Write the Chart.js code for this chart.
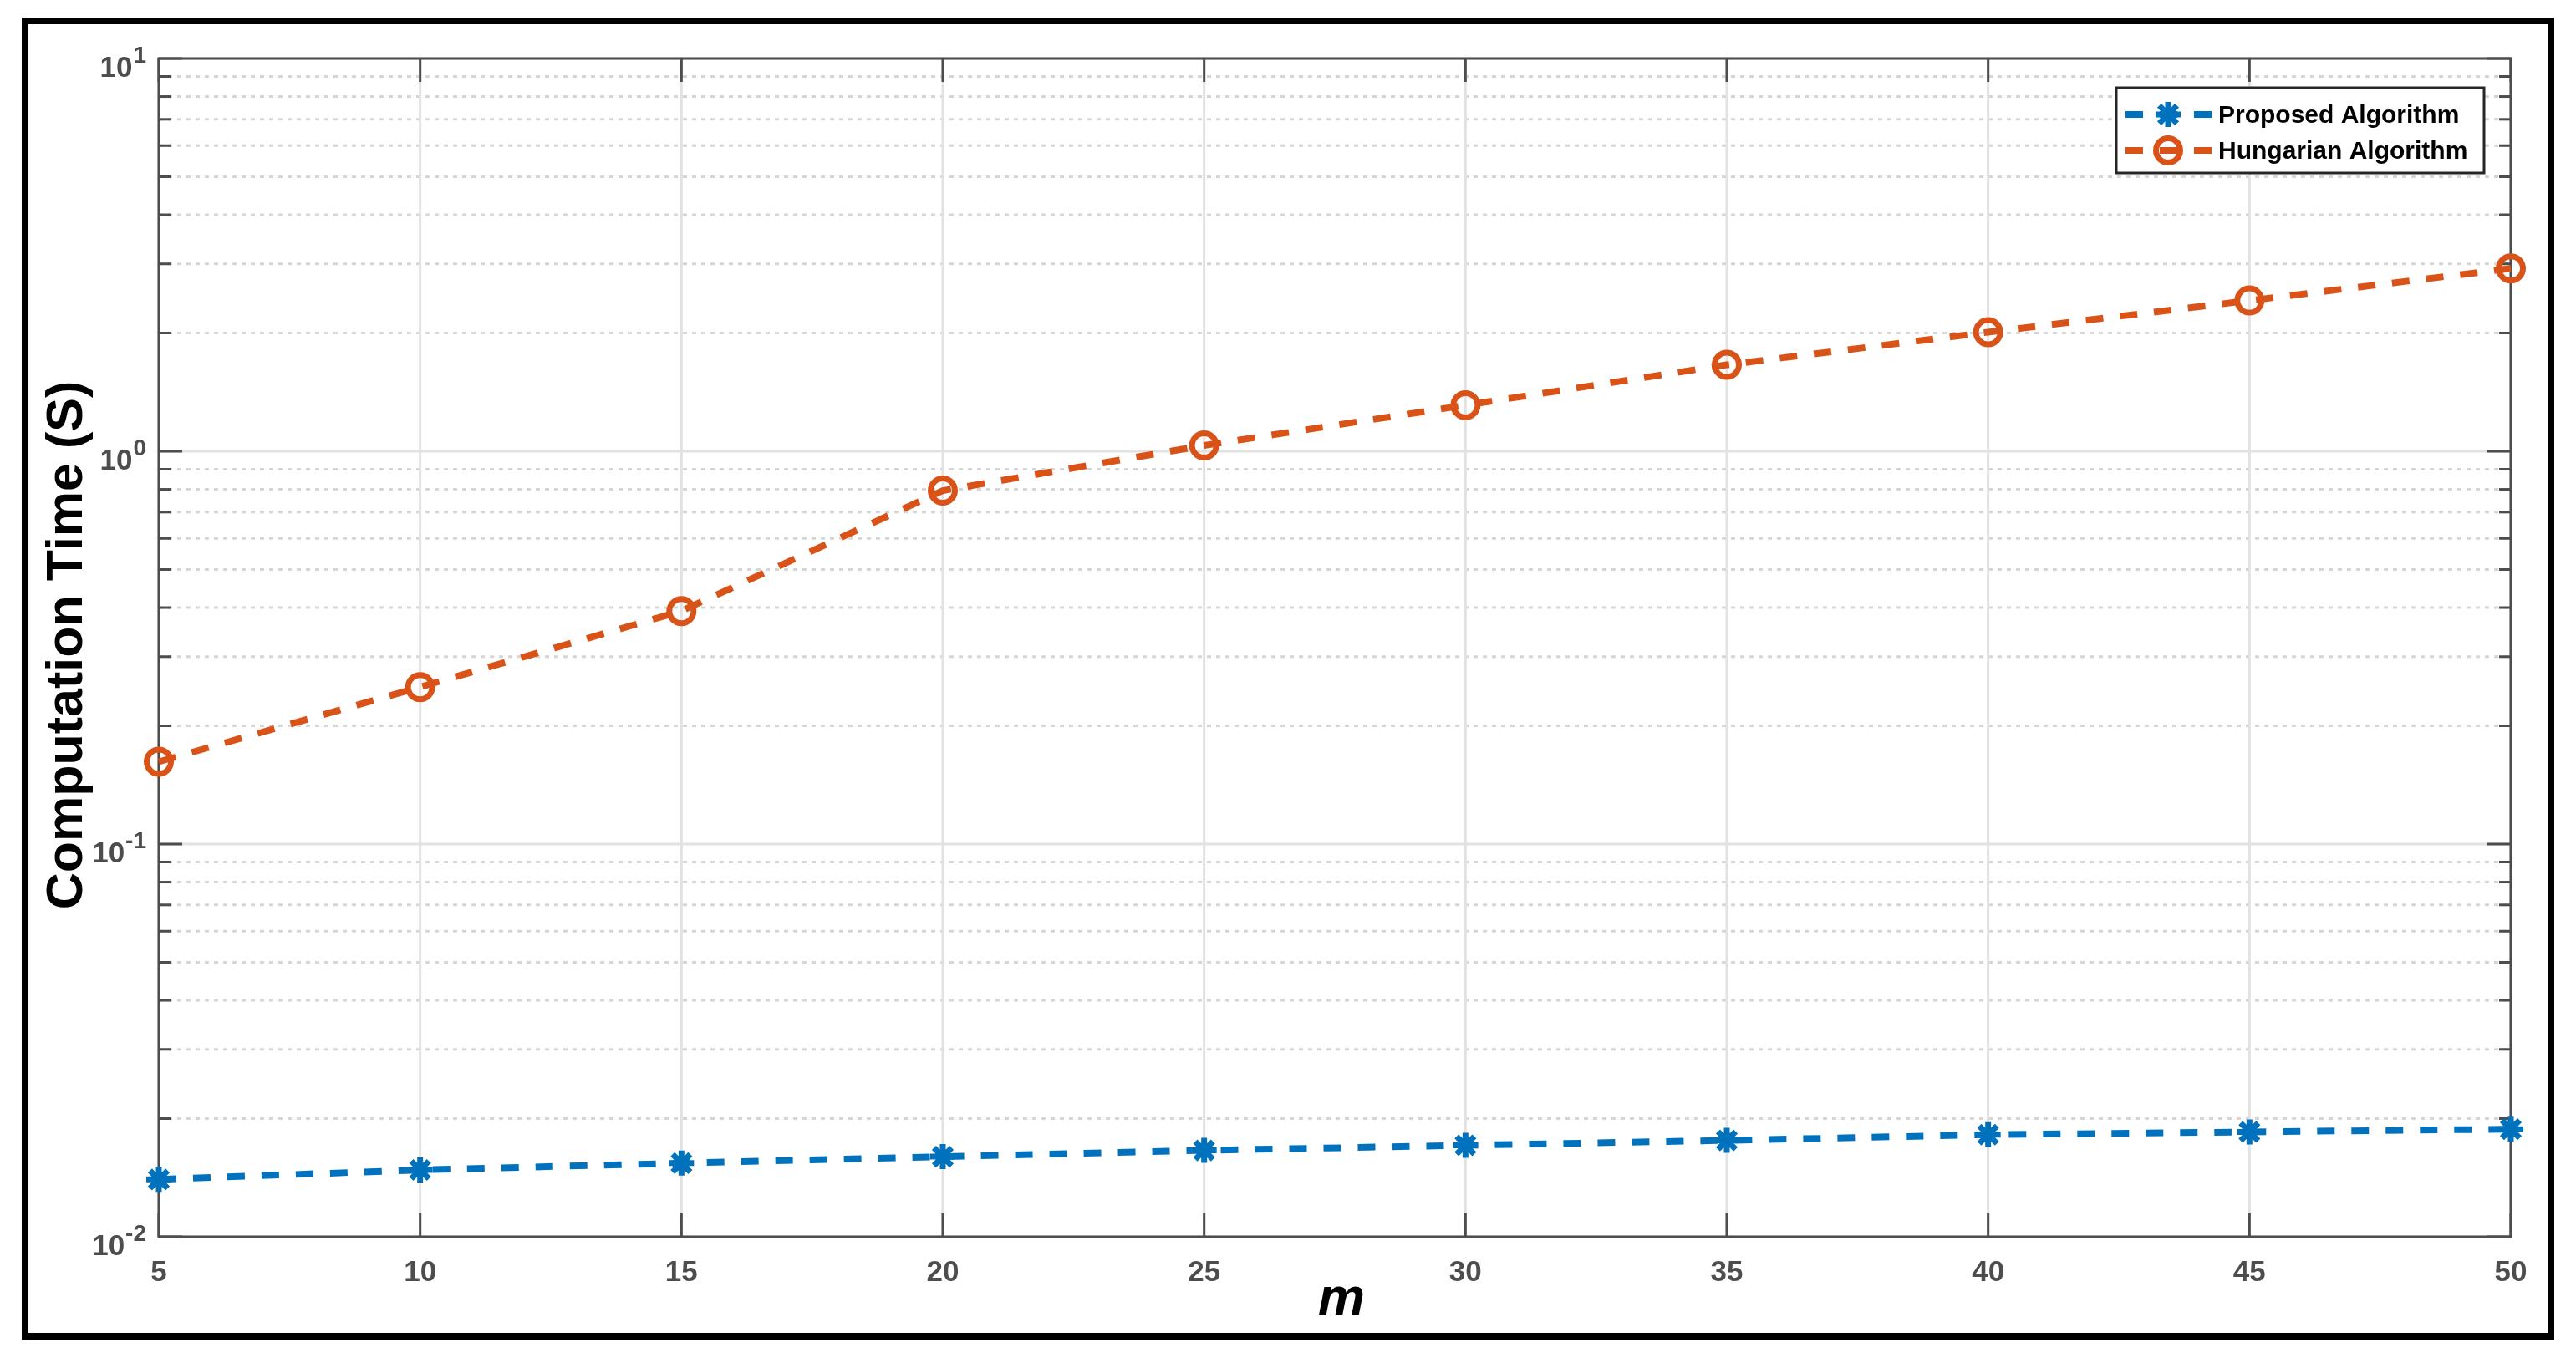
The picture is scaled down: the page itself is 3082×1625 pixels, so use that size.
<!DOCTYPE html>
<html>
<head>
<meta charset="utf-8">
<title>Computation Time</title>
<script src="https://cdn.jsdelivr.net/npm/chart.js@4.4.0/dist/chart.umd.min.js"></script>
<style>
    html, body { margin: 0; padding: 0; background: #fff; }
    canvas { display: block; }
</style>
</head>
<body>
<canvas id="tiempoChart" width="3082" height="1625"></canvas>
<script>
// valores
const mValues = [5, 10, 15, 20, 25, 30, 35, 40, 45, 50];
const proposedTime = [0.0140, 0.0148, 0.0154, 0.0160, 0.0166, 0.0171, 0.0176, 0.0182, 0.0185, 0.0188];
const hungarianTime = [0.162, 0.251, 0.392, 0.794, 1.035, 1.31, 1.66, 2.01, 2.42, 2.92];

const xTicks = [5, 10, 15, 20, 25, 30, 35, 40, 45, 50];
const yDecades = [0.01, 0.1, 1, 10];
const yExponents = ['-2', '-1', '0', '1'];
const seriesNames = ['Proposed Algorithm', 'Hungarian Algorithm'];
const seriesColors = ['#0072BD', '#D95319'];

const FONT = "'Liberation Sans', Arial, Helvetica, sans-serif";
const AXIS_COLOR = '#4d4d4d';

function minorValues() {
    const out = [];
    for (let i = 0; i < yDecades.length - 1; i++) {
        for (let k = 2; k <= 9; k++) out.push(k * yDecades[i]);
    }
    return out;
}

function seg(ctx, x1, y1, x2, y2) {
    ctx.beginPath();
    ctx.moveTo(x1, y1);
    ctx.lineTo(x2, y2);
    ctx.stroke();
}

function drawStar(ctx, cx, cy, r, color) {
    ctx.save();
    ctx.strokeStyle = color;
    ctx.lineWidth = 7;
    const d = r * Math.SQRT1_2;
    seg(ctx, cx - r, cy, cx + r, cy);
    seg(ctx, cx, cy - r, cx, cy + r);
    seg(ctx, cx - d, cy - d, cx + d, cy + d);
    seg(ctx, cx - d, cy + d, cx + d, cy - d);
    ctx.restore();
}

function drawCircle(ctx, cx, cy, r, color) {
    ctx.save();
    ctx.strokeStyle = color;
    ctx.lineWidth = 7;
    ctx.beginPath();
    ctx.arc(cx, cy, r, 0, Math.PI * 2);
    ctx.stroke();
    ctx.restore();
}

// ejes estilo MATLAB: rejilla, marcas hacia dentro, caja
const matlabAxes = {
    id: 'matlabAxes',
    beforeDatasetsDraw(chart) {
        const { ctx, chartArea: a, scales: { x, y } } = chart;
        ctx.save();
        ctx.lineWidth = 3;

        ctx.strokeStyle = '#d6d6d6';
        ctx.setLineDash([5, 6]);
        minorValues().forEach(v => {
            const py = y.getPixelForValue(v);
            seg(ctx, a.left, py, a.right, py);
        });

        ctx.setLineDash([]);
        ctx.strokeStyle = '#e2e2e2';
        yDecades.forEach(v => {
            const py = y.getPixelForValue(v);
            seg(ctx, a.left, py, a.right, py);
        });
        xTicks.forEach(v => {
            const px = x.getPixelForValue(v);
            seg(ctx, px, a.top, px, a.bottom);
        });

        ctx.strokeStyle = AXIS_COLOR;
        minorValues().forEach(v => {
            const py = y.getPixelForValue(v);
            seg(ctx, a.left, py, a.left + 14, py);
            seg(ctx, a.right - 14, py, a.right, py);
        });
        yDecades.forEach(v => {
            const py = y.getPixelForValue(v);
            seg(ctx, a.left, py, a.left + 28, py);
            seg(ctx, a.right - 28, py, a.right, py);
        });
        xTicks.forEach(v => {
            const px = x.getPixelForValue(v);
            seg(ctx, px, a.bottom, px, a.bottom - 28);
            seg(ctx, px, a.top, px, a.top + 28);
        });
        ctx.strokeRect(a.left, a.top, a.right - a.left, a.bottom - a.top);
        ctx.restore();
    },
    afterDraw(chart) {
        const { ctx, chartArea: a, scales: { x, y } } = chart;
        ctx.save();

        // etiquetas eje y (10^n)
        ctx.fillStyle = AXIS_COLOR;
        ctx.textBaseline = 'alphabetic';
        ctx.textAlign = 'right';
        yDecades.forEach((v, i) => {
            const py = y.getPixelForValue(v);
            const expRight = a.left - 15;
            ctx.font = `bold 28px ${FONT}`;
            ctx.fillText(yExponents[i], expRight, py + 5);
            const w = ctx.measureText(yExponents[i]).width;
            ctx.font = `bold 35px ${FONT}`;
            ctx.fillText('10', expRight - w - 1, py + 22);
        });

        // etiquetas eje x
        ctx.textAlign = 'center';
        ctx.font = `bold 35px ${FONT}`;
        xTicks.forEach(v => {
            ctx.fillText(String(v), x.getPixelForValue(v), a.bottom + 53);
        });

        // titulos de ejes
        ctx.fillStyle = '#000';
        ctx.font = `italic bold 63px ${FONT}`;
        ctx.fillText('m', (a.left + a.right) / 2 + 8, a.bottom + 93);

        ctx.save();
        ctx.translate(a.left - 92, (a.top + a.bottom) / 2 - 3);
        ctx.rotate(-Math.PI / 2);
        ctx.font = `bold 61px ${FONT}`;
        ctx.fillText('Computation Time (S)', 0, 0);
        ctx.restore();

        // leyenda
        const lw = 440, lh = 102;
        const lx = a.right - 32 - lw, ly = a.top + 35;
        ctx.fillStyle = '#fff';
        ctx.fillRect(lx, ly, lw, lh);
        ctx.strokeStyle = '#262626';
        ctx.lineWidth = 3;
        ctx.strokeRect(lx, ly, lw, lh);
        ctx.textAlign = 'left';
        ctx.font = `bold 30px ${FONT}`;
        seriesNames.forEach((name, i) => {
            const cy = ly + 32 + i * 43;
            ctx.save();
            ctx.strokeStyle = seriesColors[i];
            ctx.lineWidth = 8;
            ctx.setLineDash([21, 20]);
            seg(ctx, lx + 11, cy, lx + 114, cy);
            ctx.restore();
            if (i === 0) drawStar(ctx, lx + 62, cy, 15, seriesColors[i]);
            else drawCircle(ctx, lx + 62, cy, 14.5, seriesColors[i]);
            ctx.fillStyle = '#000';
            ctx.fillText(name, lx + 122, cy + 10);
        });

        // marco exterior
        ctx.strokeStyle = '#000';
        ctx.lineWidth = 8;
        ctx.strokeRect(30, 25, chart.width - 60, chart.height - 51);
        ctx.restore();
    }
};

document.addEventListener('DOMContentLoaded', () => {
    const ctx = document.getElementById('tiempoChart').getContext('2d');
    new Chart(ctx, {
        type: 'line',
        data: {
            datasets: [{
                label: seriesNames[0],
                data: mValues.map((m, i) => ({ x: m, y: proposedTime[i] })),
                borderColor: seriesColors[0],
                backgroundColor: seriesColors[0],
                borderWidth: 8,
                borderDash: [21, 20],
                pointStyle: 'star',
                pointRadius: 15,
                pointBorderWidth: 7,
                pointBorderColor: seriesColors[0],
                pointBackgroundColor: seriesColors[0],
                tension: 0,
                clip: false
            }, {
                label: seriesNames[1],
                data: mValues.map((m, i) => ({ x: m, y: hungarianTime[i] })),
                borderColor: seriesColors[1],
                backgroundColor: seriesColors[1],
                borderWidth: 8,
                borderDash: [21, 20],
                pointStyle: 'circle',
                pointRadius: 14.5,
                pointBorderWidth: 7,
                pointBorderColor: seriesColors[1],
                pointBackgroundColor: 'rgba(0,0,0,0)',
                tension: 0,
                clip: false
            }]
        },
        options: {
            responsive: false,
            animation: false,
            devicePixelRatio: 1,
            events: [],
            layout: { padding: { left: 190, top: 70, right: 78, bottom: 145 } },
            plugins: {
                legend: { display: false },
                tooltip: { enabled: false }
            },
            scales: {
                x: { type: 'linear', min: 5, max: 50, display: false },
                y: { type: 'logarithmic', min: 0.01, max: 10, display: false }
            }
        },
        plugins: [matlabAxes]
    });
});
</script>
</body>
</html>
